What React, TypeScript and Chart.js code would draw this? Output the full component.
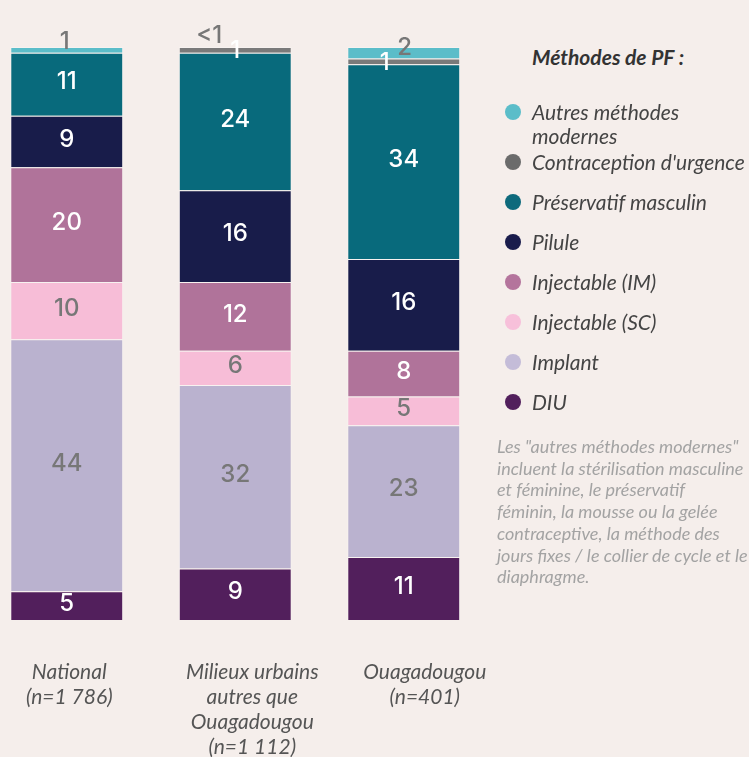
import React, { useEffect, useRef } from "react";
import { Chart, registerables } from "chart.js";

Chart.register(...registerables);

const categories: string[][] = [
  ["National", "(n=1 786)"],
  ["Milieux urbains", "autres que", "Ouagadougou", "(n=1 112)"],
  ["Ouagadougou", "(n=401)"],
];

const seriesNames = [
  "DIU",
  "Implant",
  "Injectable (SC)",
  "Injectable (IM)",
  "Pilule",
  "Préservatif masculin",
  "Contraception d'urgence",
  "Autres méthodes modernes",
];

const diu = [5, 9, 11];
const implant = [44, 32, 23];
const injSC = [10, 6, 5];
const injIM = [20, 12, 8];
const pilule = [9, 16, 16];
const preservatif = [11, 24, 34];
const urgence = [0, 1, 1];
const autres = [1, 0.2, 2];

const diuLabels = ["5", "9", "11"];
const implantLabels = ["44", "32", "23"];
const injSCLabels = ["10", "6", "5"];
const injIMLabels = ["20", "12", "8"];
const piluleLabels = ["9", "16", "16"];
const preservatifLabels = ["11", "24", "34"];
const urgenceLabels = ["", "1", "1"];
const autresLabels = ["1", "<1", "2"];

const colors = [
  "#521f5c",
  "#bab2cf",
  "#f7bdd7",
  "#b0739a",
  "#181c4a",
  "#086a7c",
  "#7a7a7a",
  "#5bbdc9",
];
const labelColors = ["#fff", "#777", "#777", "#fff", "#fff", "#fff", "#fff", "#777"];

const allValues = [diu, implant, injSC, injIM, pilule, preservatif, urgence, autres];
const allLabels = [
  diuLabels,
  implantLabels,
  injSCLabels,
  injIMLabels,
  piluleLabels,
  preservatifLabels,
  urgenceLabels,
  autresLabels,
];

// legend order (top to bottom)
const legendOrder = [7, 6, 5, 4, 3, 2, 1, 0];
const legendNames = [
  "DIU",
  "Implant",
  "Injectable (SC)",
  "Injectable (IM)",
  "Pilule",
  "Préservatif masculin",
  "Contraception d'urgence",
  "Autres méthodes\nmodernes",
];
const legendColors = ["#521f5c", "#c4bcd8", "#f7c0da", "#b4749c", "#1a1c4c", "#0e6a7c", "#6b6b6b", "#5bbdc9"];

const footnoteLines = [
  'Les "autres méthodes modernes"',
  "incluent la stérilisation masculine",
  "et féminine, le préservatif",
  "féminin, la mousse ou la gelée",
  "contraceptive, la méthode des",
  "jours fixes / le collier de cycle et le",
  "diaphragme.",
];

// nudges for small segment labels: key "dataset-index" -> [dx, dy] relative to segment center
const SMALL_LABEL_NUDGE: Record<string, [number, number]> = {
  "7-0": [-2, -8],
  "7-1": [-26, -11],
  "6-1": [0, 1],
  "6-2": [-19, 1],
  "7-2": [1, -5],
};
// horizontal shift of category labels relative to bar centres
const CATEGORY_LABEL_DX = [2.5, 17, 21];

const labelPlugin = {
  id: "segLabels",
  afterDatasetsDraw(chart: any) {
    const ctx = chart.ctx;
    ctx.save();
    ctx.font = '500 24px "Inter", "Noto Sans", sans-serif';
    ctx.textAlign = "center";
    ctx.textBaseline = "middle";
    chart.data.datasets.forEach((ds: any, di: number) => {
      const meta = chart.getDatasetMeta(di);
      meta.data.forEach((bar: any, i: number) => {
        const txt = allLabels[di][i];
        if (!txt) return;
        const cy = (bar.y + bar.base) / 2;
        const nudge = SMALL_LABEL_NUDGE[`${di}-${i}`] || [0, -2];
        ctx.fillStyle = labelColors[di];
        ctx.fillText(txt, bar.x + nudge[0], cy + nudge[1]);
      });
    });
    // category labels
    const xs = chart.scales.x;
    ctx.font = 'italic 21px "Lato", sans-serif';
    ctx.fillStyle = "#555";
    categories.forEach((lines, i) => {
      const x = xs.getPixelForValue(i) + CATEGORY_LABEL_DX[i];
      lines.forEach((ln, j) => {
        ctx.fillText(ln, x, chart.chartArea.bottom + 52 + j * 25);
      });
    });
    ctx.restore();
  },
};

export default function App() {
  const ref = useRef<HTMLCanvasElement>(null);
  useEffect(() => {
    document.body.style.margin = "0";
    document.body.style.background = "#f5eeeb";
    const chart = new Chart(ref.current!, {
      type: "bar",
      data: {
        labels: categories.map((c) => c.join(" ")),
        datasets: allValues.map((vals, di) => ({
          label: seriesNames[di],
          data: vals,
          backgroundColor: colors[di],
          borderColor: "rgba(255,255,255,0.25)",
          borderWidth: 1,
          categoryPercentage: 1,
          barPercentage: 0.67,
        })),
      },
      options: {
        animation: false,
        responsive: false,
        maintainAspectRatio: false,
        layout: { padding: { left: 22.5, right: 30, top: 47, bottom: 0 } },
        plugins: { legend: { display: false }, tooltip: { enabled: false } },
        scales: {
          x: {
            stacked: true,
            offset: true,
            grid: { display: false, drawTicks: false },
            border: { display: false },
            ticks: { display: false },
            afterFit: (scale: any) => {
              scale.height = 137;
            },
          },
          y: { stacked: true, display: false, min: 0, max: 100 },
        },
      },
      plugins: [labelPlugin],
    });
    return () => chart.destroy();
  }, []);

  return (
    <div
      style={{
        position: "absolute",
        left: 0,
        top: 0,
        width: 749,
        height: 757,
        background: "#f5eeeb",
        overflow: "hidden",
        fontFamily: "Lato",
      }}
    >
      <canvas ref={ref} width={558} height={757} style={{ position: "absolute", left: -40, top: 0 }} />
      <div
        style={{
          position: "absolute",
          left: 532,
          top: 44,
          fontSize: 21,
          fontWeight: 700,
          fontStyle: "italic",
          color: "#333",
          whiteSpace: "nowrap",
        }}
      >
        Méthodes de PF :
      </div>
      {legendOrder.map((di, k) => {
        const names = legendNames[di].split("\n");
        const cy = 112 + (k === 0 ? 0 : 50 + (k - 1) * 40);
        return (
          <div key={di}>
            <div
              style={{
                position: "absolute",
                left: 505,
                top: cy - 8,
                width: 16,
                height: 16,
                borderRadius: 8,
                background: legendColors[di],
              }}
            />
            {names.map((n, j) => (
              <div
                key={j}
                style={{
                  position: "absolute",
                  left: 532,
                  top: cy - 14 + j * 24,
                  fontSize: 21,
                  lineHeight: "28px",
                  fontStyle: "italic",
                  color: "#444",
                  whiteSpace: "nowrap",
                }}
              >
                {n}
              </div>
            ))}
          </div>
        );
      })}
      <div
        style={{
          position: "absolute",
          left: 497,
          top: 436,
          fontSize: 18,
          lineHeight: "21.7px",
          fontStyle: "italic",
          color: "#a3a3a3",
          whiteSpace: "nowrap",
        }}
      >
        {footnoteLines.map((l, i) => (
          <div key={i}>{l}</div>
        ))}
      </div>
    </div>
  );
}
